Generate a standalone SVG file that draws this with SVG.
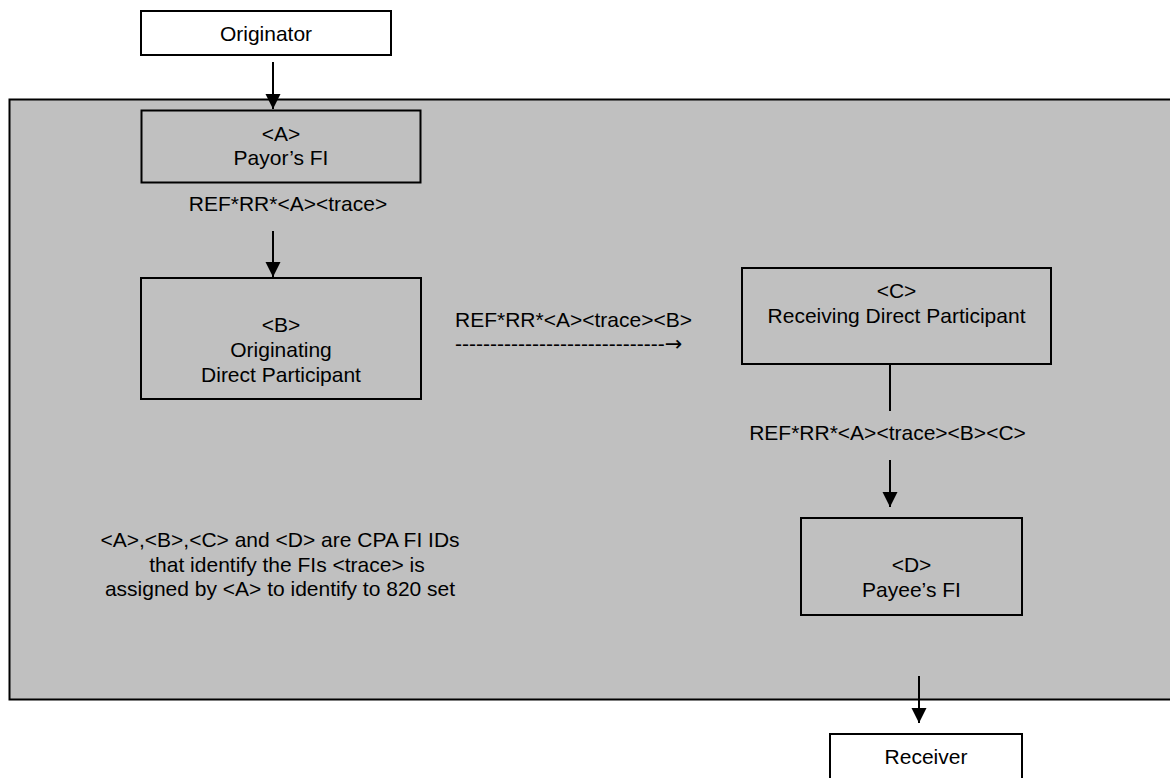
<svg xmlns="http://www.w3.org/2000/svg" width="1170" height="778" viewBox="0 0 1170 778">
<style>
.t{font-family:"Liberation Sans",Arial,sans-serif;font-size:21px;fill:#000;text-anchor:middle}
.tl{font-family:"Liberation Sans",Arial,sans-serif;font-size:21px;fill:#000}
.arr{font-family:"DejaVu Sans",sans-serif}
.box{fill:none;stroke:#000;stroke-width:2}
.wbox{fill:#fff;stroke:#000;stroke-width:2}
.ln{stroke:#000;stroke-width:2;fill:none}
</style>
<defs>
<marker id="ah" markerWidth="16" markerHeight="16" refX="15" refY="7.5" orient="auto" markerUnits="userSpaceOnUse">
<path d="M0,0 L15,7.5 L0,15 Z" fill="#000"/>
</marker>
</defs>
<rect width="1170" height="778" fill="#fff"/>
<g id="container">
<rect x="9.5" y="99.5" width="1175" height="600" fill="#c0c0c0" stroke="#000" stroke-width="2"/>
</g>
<g id="originator">
<rect class="wbox" x="141" y="11" width="250" height="44"/>
<text class="t" x="266" y="41">Originator</text>
</g>
<g id="nodeA">
<rect class="box" x="141.5" y="110.5" width="279" height="72"/>
<text class="t" x="281" y="141">&lt;A&gt;</text>
<text class="t" x="281" y="165">Payor’s FI</text>
</g>
<g id="nodeB">
<rect class="box" x="141" y="278" width="280" height="121"/>
<text class="t" x="281" y="332">&lt;B&gt;</text>
<text class="t" x="281" y="357">Originating</text>
<text class="t" x="281" y="382">Direct Participant</text>
</g>
<g id="nodeC">
<rect class="box" x="742" y="268" width="309" height="96"/>
<text class="t" x="896.5" y="298">&lt;C&gt;</text>
<text class="t" x="896.5" y="323">Receiving Direct Participant</text>
</g>
<g id="nodeD">
<rect class="box" x="801" y="518" width="221" height="97"/>
<text class="t" x="911.5" y="572">&lt;D&gt;</text>
<text class="t" x="911.5" y="597">Payee’s FI</text>
</g>
<g id="receiver">
<rect class="wbox" x="830" y="734" width="192" height="60"/>
<text class="t" x="926" y="764">Receiver</text>
</g>
<g id="connectors">
<line class="ln" x1="273" y1="62" x2="273" y2="109" marker-end="url(#ah)"/>
<line class="ln" x1="273" y1="231" x2="273" y2="277" marker-end="url(#ah)"/>
<line class="ln" x1="890" y1="364" x2="890" y2="411"/>
<line class="ln" x1="890" y1="460" x2="890" y2="507" marker-end="url(#ah)"/>
<line class="ln" x1="919" y1="676" x2="919" y2="723" marker-end="url(#ah)"/>
</g>
<g id="labels">
<text class="t" x="288" y="211">REF*RR*&lt;A&gt;&lt;trace&gt;</text>
<text class="tl" x="455" y="327">REF*RR*&lt;A&gt;&lt;trace&gt;&lt;B&gt;</text>
<text class="tl" x="455" y="351">------------------------------<tspan class="arr">→</tspan></text>
<text class="t" x="887.5" y="440">REF*RR*&lt;A&gt;&lt;trace&gt;&lt;B&gt;&lt;C&gt;</text>
<text class="t" x="280" y="547">&lt;A&gt;,&lt;B&gt;,&lt;C&gt; and &lt;D&gt; are CPA FI IDs</text>
<text class="t" x="287" y="572">that identify the FIs &lt;trace&gt; is</text>
<text class="t" x="280" y="596">assigned by &lt;A&gt; to identify to 820 set</text>
</g>
</svg>
